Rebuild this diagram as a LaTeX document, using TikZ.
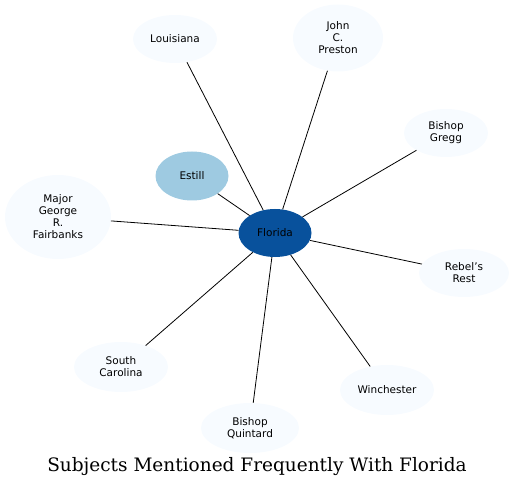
\documentclass[tikz,border=0pt]{standalone}
\usepackage{fontspec}
\setmainfont{DejaVu Sans}
\newfontfamily\titlefont{DejaVu Serif}
\usetikzlibrary{shapes.geometric}

\definecolor{hubblue}{HTML}{08519C}
\definecolor{nearblue}{HTML}{9ECAE1}
\definecolor{farblue}{HTML}{F7FBFF}

\begin{document}
\begin{tikzpicture}[x=1pt, y=-1pt, every edge/.style={draw, line width=0.8pt},
  subject/.style={ellipse, fill=farblue, inner sep=0pt, align=center, font=\fontsize{10.5}{12}\selectfont}]
\path[use as bounding box] (0,0) rectangle (514,489);
\node[subject, fill=hubblue, minimum width=73pt, minimum height=48pt] (Florida) at (275,233) {Florida};
\node[subject, fill=nearblue, minimum width=73pt, minimum height=49pt] (Estill) at (192,176) {Estill};
\node[subject, minimum width=84pt, minimum height=48pt] (Louisiana) at (175,39) {Louisiana};
\node[subject, minimum width=90pt, minimum height=67pt] (Preston) at (338,38) {John\\C.\\Preston};
\node[subject, minimum width=84pt, minimum height=48pt] (Gregg) at (446,133) {Bishop\\Gregg};
\node[subject, minimum width=106pt, minimum height=84pt] (Fairbanks) at (58,217) {Major\\George\\R.\\Fairbanks};
\node[subject, minimum width=90pt, minimum height=48pt] (Rest) at (464,273) {Rebel's\\Rest};
\node[subject, minimum width=94pt, minimum height=50pt] (Carolina) at (121,367) {South\\Carolina};
\node[subject, minimum width=98pt, minimum height=50pt] (Quintard) at (250,428) {Bishop\\Quintard};
\node[subject, minimum width=94pt, minimum height=50pt] (Winchester) at (387,390) {Winchester};
\node[font=\titlefont\fontsize{18.5}{20}\selectfont] (title) at (257,467) {Subjects Mentioned Frequently With Florida};
\path (Florida) edge (Estill);
\path (Florida) edge (Louisiana);
\path (Florida) edge (Preston);
\path (Florida) edge (Gregg);
\path (Florida) edge (Fairbanks);
\path (Florida) edge (Rest);
\path (Florida) edge (Carolina);
\path (Florida) edge (Quintard);
\path (Florida) edge (Winchester);
\end{tikzpicture}
\end{document}
